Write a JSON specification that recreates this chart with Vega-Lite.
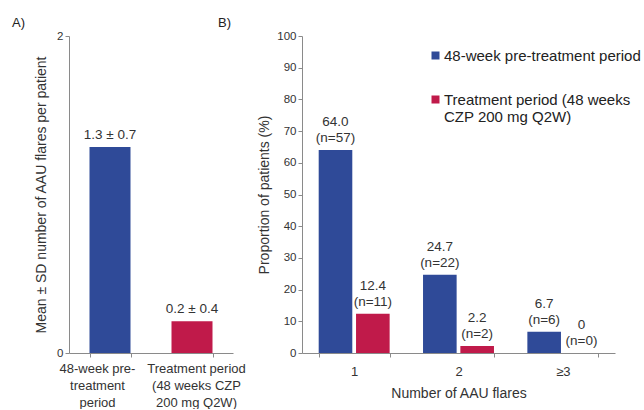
{
  "$schema": "https://vega.github.io/schema/vega-lite/v6.json",
  "background": "white",
  "padding": {"left": 12, "top": 17, "right": 0, "bottom": 0},
  "bounds": "flush",
  "spacing": 69,
  "config": {
    "view": {"stroke": null},
    "font": "Liberation Sans",
    "axis": {
      "domainColor": "#8a8a8a",
      "tickColor": "#8a8a8a",
      "tickSize": 4,
      "grid": false,
      "labelColor": "#333333",
      "titleColor": "#333333",
      "labelFont": "Liberation Sans",
      "titleFont": "Liberation Sans",
      "titleFontWeight": "normal",
      "labelFontSize": 11.5,
      "titleFontSize": 14
    },
    "legend": {"labelFont": "Liberation Sans"},
    "title": {"font": "Liberation Sans", "fontWeight": "normal", "fontSize": 13, "color": "#222222"}
  },
  "hconcat": [
    {
      "title": {"text": "A)", "anchor": "start", "frame": "group", "dx": -57, "offset": 0},
      "width": 164,
      "height": 317,
      "data": {"values": [
        {"period": "48-week pre-treatment period", "mean": 1.3, "label": "1.3 ± 0.7"},
        {"period": "Treatment period (48 weeks CZP 200 mg Q2W)", "mean": 0.2, "label": "0.2 ± 0.4"}
      ]},
      "encoding": {
        "x": {
          "field": "period", "type": "nominal", "sort": null,
          "scale": {"paddingInner": 0.5, "paddingOuter": 0.25},
          "axis": {
            "title": null, "labelAngle": 0, "tickBand": "extent",
            "labelFontSize": 13, "labelLineHeight": 17, "labelPadding": 5,
            "labelOffset": {"condition": {"test": "datum.value == '48-week pre-treatment period'", "value": -13}, "value": 4},
            "labelExpr": "datum.value == '48-week pre-treatment period' ? ['48-week pre-', 'treatment', 'period'] : (datum.value == 'Treatment period (48 weeks CZP 200 mg Q2W)' ? ['Treatment period', '(48 weeks CZP', '200 mg Q2W)'] : '')"
          }
        },
        "y": {
          "field": "mean", "type": "quantitative",
          "scale": {"domain": [0, 2]},
          "axis": {"values": [0, 1, 2], "format": "d", "title": "Mean ± SD number of AAU flares per patient", "titlePadding": 8}
        }
      },
      "layer": [
        {
          "mark": {"type": "bar"},
          "encoding": {
            "color": {
              "field": "period", "type": "nominal", "sort": null,
              "scale": {"domain": ["48-week pre-treatment period", "Treatment period (48 weeks CZP 200 mg Q2W)"], "range": ["#2F4A98", "#C01A4A"]},
              "legend": {
                "orient": "none", "legendX": 359, "legendY": 12, "title": null,
                "symbolType": "square", "symbolSize": 64, "labelFontSize": 15, "labelColor": "#222222",
                "labelLimit": 400, "rowPadding": 28, "labelOffset": 1, "labelLineHeight": 15,
                "labelExpr": "datum.label == '48-week pre-treatment period' ? '48-week pre-treatment period' : ['Treatment period (48 weeks', 'CZP 200 mg Q2W)']"
              }
            }
          }
        },
        {
          "mark": {"type": "text", "baseline": "bottom", "dy": -5, "fontSize": 13.5, "color": "#333333"},
          "encoding": {"text": {"field": "label"}}
        }
      ]
    },
    {
      "title": {"text": "B)", "anchor": "start", "frame": "group", "dx": -84, "offset": 0},
      "width": 313,
      "height": 317,
      "data": {"values": [
        {"flares": "1", "period": "48-week pre-treatment period", "pct": 64.0, "value": "64.0", "n": "(n=57)"},
        {"flares": "1", "period": "Treatment period (48 weeks CZP 200 mg Q2W)", "pct": 12.4, "value": "12.4", "n": "(n=11)"},
        {"flares": "2", "period": "48-week pre-treatment period", "pct": 24.7, "value": "24.7", "n": "(n=22)"},
        {"flares": "2", "period": "Treatment period (48 weeks CZP 200 mg Q2W)", "pct": 2.2, "value": "2.2", "n": "(n=2)"},
        {"flares": "≥3", "period": "48-week pre-treatment period", "pct": 6.7, "value": "6.7", "n": "(n=6)"},
        {"flares": "≥3", "period": "Treatment period (48 weeks CZP 200 mg Q2W)", "pct": 0, "value": "0", "n": "(n=0)"}
      ]},
      "encoding": {
        "x": {
          "field": "flares", "type": "nominal", "sort": null,
          "scale": {"paddingInner": 0.32, "paddingOuter": 0.16},
          "axis": {"title": "Number of AAU flares", "labelAngle": 0, "tickBand": "extent", "labelFontSize": 13, "labelPadding": 8, "titlePadding": 8}
        },
        "xOffset": {"field": "period", "type": "nominal", "sort": null, "scale": {"paddingInner": 0.1}},
        "y": {
          "field": "pct", "type": "quantitative",
          "scale": {"domain": [0, 100]},
          "axis": {"values": [0, 10, 20, 30, 40, 50, 60, 70, 80, 90, 100], "title": "Proportion of patients (%)", "titlePadding": 5}
        }
      },
      "layer": [
        {
          "mark": {"type": "bar"},
          "encoding": {
            "color": {
              "field": "period", "type": "nominal", "sort": null,
              "scale": {"domain": ["48-week pre-treatment period", "Treatment period (48 weeks CZP 200 mg Q2W)"], "range": ["#2F4A98", "#C01A4A"]},
              "legend": {
                "orient": "none", "legendX": 359, "legendY": 12, "title": null,
                "symbolType": "square", "symbolSize": 64, "labelFontSize": 15, "labelColor": "#222222",
                "labelLimit": 400, "rowPadding": 28, "labelOffset": 1, "labelLineHeight": 15,
                "labelExpr": "datum.label == '48-week pre-treatment period' ? '48-week pre-treatment period' : ['Treatment period (48 weeks', 'CZP 200 mg Q2W)']"
              }
            }
          }
        },
        {
          "mark": {"type": "text", "baseline": "bottom", "dy": -5, "fontSize": 13.5, "color": "#333333"},
          "encoding": {"text": {"field": "n"}}
        },
        {
          "mark": {"type": "text", "baseline": "bottom", "dy": -21, "fontSize": 13.5, "color": "#333333"},
          "encoding": {"text": {"field": "value"}}
        }
      ]
    }
  ]
}
